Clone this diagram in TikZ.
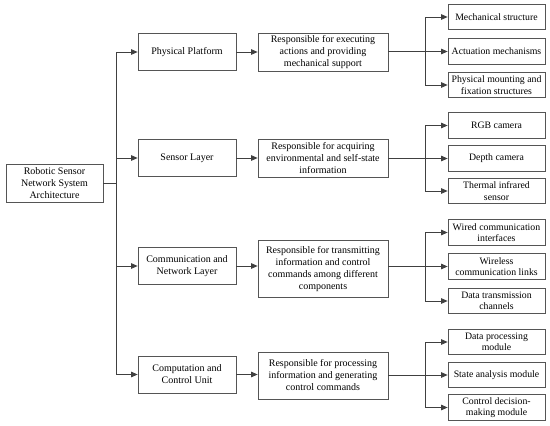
\documentclass[tikz,border=0pt]{standalone}
\usepackage{fontspec}
\setmainfont{Liberation Serif}
\usetikzlibrary{arrows.meta}
\definecolor{linec}{HTML}{404040}
\definecolor{boxc}{HTML}{555555}
\begin{document}
\begin{tikzpicture}[x=1pt,y=-1pt,
  box/.style={draw=boxc,line width=0.7pt,rectangle,align=center,inner sep=1pt,
    font=\fontsize{10}{12}\selectfont,text=black},
  rootbox/.style={box,minimum width=97pt,minimum height=38pt},
  midbox/.style={box,minimum width=98pt,minimum height=37pt},
  descbox/.style={box,minimum width=130pt,minimum height=38pt},
  leafbox/.style={box,minimum width=97pt,minimum height=25.5pt,font=\fontsize{9.8}{11.5}\selectfont},
  conn/.style={draw=linec,line width=0.8pt},
  arr/.style={conn,-{Triangle[length=6.5pt,width=5.5pt]}}]
\useasboundingbox (0,0) rectangle (550,426);

\node[rootbox] (root) at (54.5,183) {Robotic Sensor\\Network System\\Architecture};

\node[midbox] (m1) at (187,52) {Physical Platform};
\node[midbox] (m2) at (187,158) {Sensor Layer};
\node[midbox] (m3) at (187,266) {Communication and\\Network Layer};
\node[midbox] (m4) at (187,374.5) {Computation and\\Control Unit};

\node[descbox] (d1) at (323,52) {Responsible for executing\\actions and providing\\mechanical support};
\node[descbox] (d2) at (323,158) {Responsible for acquiring\\environmental and self-state\\information};
\node[descbox,minimum height=57pt] (d3) at (323,269) {Responsible for transmitting\\information and control\\commands among different\\components};
\node[descbox,minimum height=47pt] (d4) at (323,375.5) {Responsible for processing\\information and generating\\control commands};

\node[leafbox] (l11) at (496.5,17) {Mechanical structure};
\node[leafbox] (l12) at (496.5,51.5) {Actuation mechanisms};
\node[leafbox] (l13) at (496.5,85) {Physical mounting and\\fixation structures};
\node[leafbox] (l21) at (496.5,125.5) {RGB camera};
\node[leafbox] (l22) at (496.5,158.5) {Depth camera};
\node[leafbox] (l23) at (496.5,191) {Thermal infrared\\sensor};
\node[leafbox] (l31) at (496.5,232.5) {Wired communication\\interfaces};
\node[leafbox] (l32) at (496.5,266.5) {Wireless\\communication links};
\node[leafbox] (l33) at (496.5,301) {Data transmission\\channels};
\node[leafbox] (l41) at (496.5,342) {Data processing\\module};
\node[leafbox] (l42) at (496.5,375) {State analysis module};
\node[leafbox] (l43) at (496.5,407.5) {Control decision-\\making module};

% trunk
\coordinate (tr) at (116,183);
\coordinate (t1) at (116,52);
\coordinate (t4) at (116,374.5);
\draw[conn] (root.east) -- (tr);
\draw[conn] (t1) -- (t4);
\foreach \m in {m1,m2,m3,m4}{
  \draw[arr] (116,0 |- \m.west) -- (\m.west);
}
\foreach \i in {1,2,3,4}{
  \draw[arr] (m\i.east) -- (m\i.east -| d\i.west);
}
% branches
\foreach \i in {1,2,3,4}{
  \coordinate (b\i) at (425,0 |- l\i2.west);
  \draw[conn] (d\i.east |- l\i2.west) -- (b\i);
  \draw[arr] (b\i) -- (l\i2.west);
  \draw[arr] (b\i) |- (l\i1.west);
  \draw[arr] (b\i) |- (l\i3.west);
}
\end{tikzpicture}
\end{document}
